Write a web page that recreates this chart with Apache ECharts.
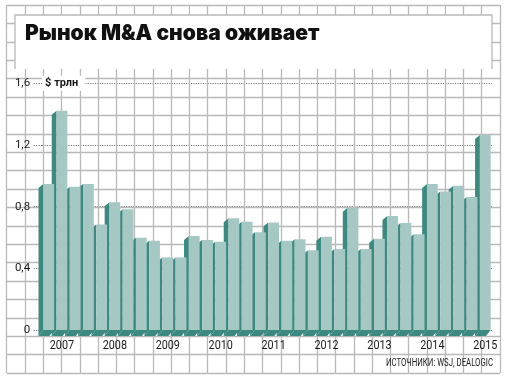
<!DOCTYPE html>
<html>
<head>
<meta charset="utf-8">
<script src="https://cdn.jsdelivr.net/npm/echarts@6/dist/echarts.min.js"></script>
<style>
html,body{margin:0;padding:0;background:#fff;}
#chart{width:506px;height:380px;}
</style>
</head>
<body>
<div id="chart"></div>
<script>
// Quarters from Q4 2006 to Q1 2015
const quarters = ['2006 Q4',
  '2007 Q1','2007 Q2','2007 Q3','2007 Q4',
  '2008 Q1','2008 Q2','2008 Q3','2008 Q4',
  '2009 Q1','2009 Q2','2009 Q3','2009 Q4',
  '2010 Q1','2010 Q2','2010 Q3','2010 Q4',
  '2011 Q1','2011 Q2','2011 Q3','2011 Q4',
  '2012 Q1','2012 Q2','2012 Q3','2012 Q4',
  '2013 Q1','2013 Q2','2013 Q3','2013 Q4',
  '2014 Q1','2014 Q2','2014 Q3','2014 Q4',
  '2015 Q1'];
// M&A volume, $ trillion
const values = [0.947,
  1.422,0.929,0.947,0.685,
  0.828,0.783,0.599,0.579,
  0.471,0.471,0.610,0.584,
  0.573,0.724,0.702,0.634,
  0.698,0.579,0.588,0.517,
  0.605,0.525,0.793,0.525,
  0.592,0.739,0.694,0.621,
  0.947,0.899,0.936,0.862,
  1.265];
const yearLabels = ['2007','2008','2009','2010','2011','2012','2013','2014','2015'];
const yTicks = [0, 0.4, 0.8, 1.2, 1.6];
const titleText = 'Рынок M&A снова оживает';
const unitText = '$ трлн';
const sourceText = 'ИСТОЧНИКИ: WSJ, DEALOGIC';

const FACE = '#a6c8c5';
const SIDE = '#3b897f';
const GRID_GRAY = '#b9b9b9';
const NARROW = "Roboto, sans-serif";

const chart = echarts.init(document.getElementById('chart'), null, {renderer:'canvas'});

const FACE_RATIO = 10.8/13.23;
const SIDE_W = 4.8, SIDE_DROP = 4, BASE_H = 6;

const baseGraphic = [
  {type: 'rect', shape: {x: 15, y: 15, width: 477, height: 54}, style: {fill: '#fff'}, z: 10},
  {type: 'polyline', shape: {points: [[15, 69], [15, 15], [492, 15], [492, 69]]},
   style: {stroke: GRID_GRAY, lineWidth: 1.3, fill: null}, z: 11},
  {type: 'text', x: 25, y: 23, z: 12,
   style: {text: titleText, fontFamily: "Inter, 'Open Sans', sans-serif", fontWeight: 900,
           fontSize: 21, fill: '#111', textVerticalAlign: 'top'}},
  {type: 'text', x: 493, y: 363, z: 12, scaleX: 0.78,
   style: {text: sourceText, fontFamily: NARROW, fontSize: 10, fill: '#1a1a1a',
           textAlign: 'right', textVerticalAlign: 'middle'}}
];

const option = {
  animation: false,
  backgroundColor: '#fff',
  grid: [
    {left: 42.1, right: 14.1, top: 83.3, bottom: 50},
    {left: 6.7, right: 6, top: 5, bottom: 7}
  ],
  xAxis: [
    {
      type: 'category', gridIndex: 0, data: quarters,
      axisLine: {show: false}, axisTick: {show: false},
      axisLabel: {show: false},
      splitLine: {show: false}
    },
    {
      type: 'value', gridIndex: 1, min: 0, max: 27, interval: 1,
      axisLine: {show: false}, axisTick: {show: false}, axisLabel: {show: false},
      splitLine: {show: true, lineStyle: {color: GRID_GRAY, width: 1.3}}
    }
  ],
  yAxis: [
    {
      type: 'value', gridIndex: 0, min: yTicks[0], max: yTicks[yTicks.length-1], interval: 0.4,
      axisLine: {show: false},
      axisTick: {show: true, length: 9, lineStyle: {color: '#777', type: [1.2, 1.2], width: 1}},
      axisLabel: {
        formatter: function (v) { return String(+v.toFixed(1)).replace('.', ','); },
        fontFamily: NARROW, fontSize: 11.5, color: '#1a1a1a', margin: 12
      },
      splitLine: {show: true, lineStyle: {color: '#777', type: [1.2, 1.2], width: 1}},
      name: unitText, nameLocation: 'end', nameGap: 0,
      nameTextStyle: {
        align: 'left', verticalAlign: 'middle', fontFamily: "Roboto, sans-serif",
        fontWeight: 'bold', fontSize: 11, color: '#1a1a1a',
        backgroundColor: '#fff', padding: [2, 7, 2, 3]
      }
    },
    {
      type: 'value', gridIndex: 1, min: 0, max: 20, interval: 1, inverse: true,
      axisLine: {show: false}, axisTick: {show: false}, axisLabel: {show: false},
      splitLine: {show: true, lineStyle: {color: GRID_GRAY, width: 1.3}}
    }
  ],
  graphic: baseGraphic,
  series: [
    {
      type: 'custom', xAxisIndex: 0, yAxisIndex: 0, z: 2,
      data: values.map(function (v, i) { return [i, v]; }),
      renderItem: function (params, api) {
        const top = api.coord([api.value(0), api.value(1)]);
        const base = api.coord([api.value(0), 0]);
        const bw = api.size([1, 0])[0];
        const w = bw * FACE_RATIO;
        const xl = top[0] - w / 2;
        const y0 = base[1], yt = top[1];
        return {
          type: 'group',
          children: [
            {type: 'polygon', shape: {points: [[xl, yt], [xl - SIDE_W, yt + SIDE_DROP], [xl - SIDE_W, y0 + BASE_H], [xl, y0]]},
             style: {fill: SIDE}},
            {type: 'polygon', shape: {points: [[xl, y0], [xl + w, y0], [xl + w - SIDE_W, y0 + BASE_H], [xl - SIDE_W, y0 + BASE_H]]},
             style: {fill: SIDE}}
          ]
        };
      }
    },
    {
      type: 'bar', xAxisIndex: 0, yAxisIndex: 0, z: 3,
      data: values, barWidth: 10.8,
      itemStyle: {color: FACE}
    }
  ]
};
chart.setOption(option);

// Year labels under the first quarter of each year, placed through the category axis
const yearGraphic = yearLabels.map(function (y) {
  const idx = quarters.indexOf(y + ' Q1');
  const p = chart.convertToPixel({xAxisIndex: 0, yAxisIndex: 0}, [idx, 0]);
  return {type: 'text', x: p[0], y: p[1] + 16, z: 12, scaleX: 0.8,
          style: {text: y, fontFamily: NARROW, fontSize: 13.5, fill: '#1a1a1a',
                  textAlign: 'center', textVerticalAlign: 'middle'}};
});
chart.setOption({graphic: baseGraphic.concat(yearGraphic)});
</script>
</body>
</html>
